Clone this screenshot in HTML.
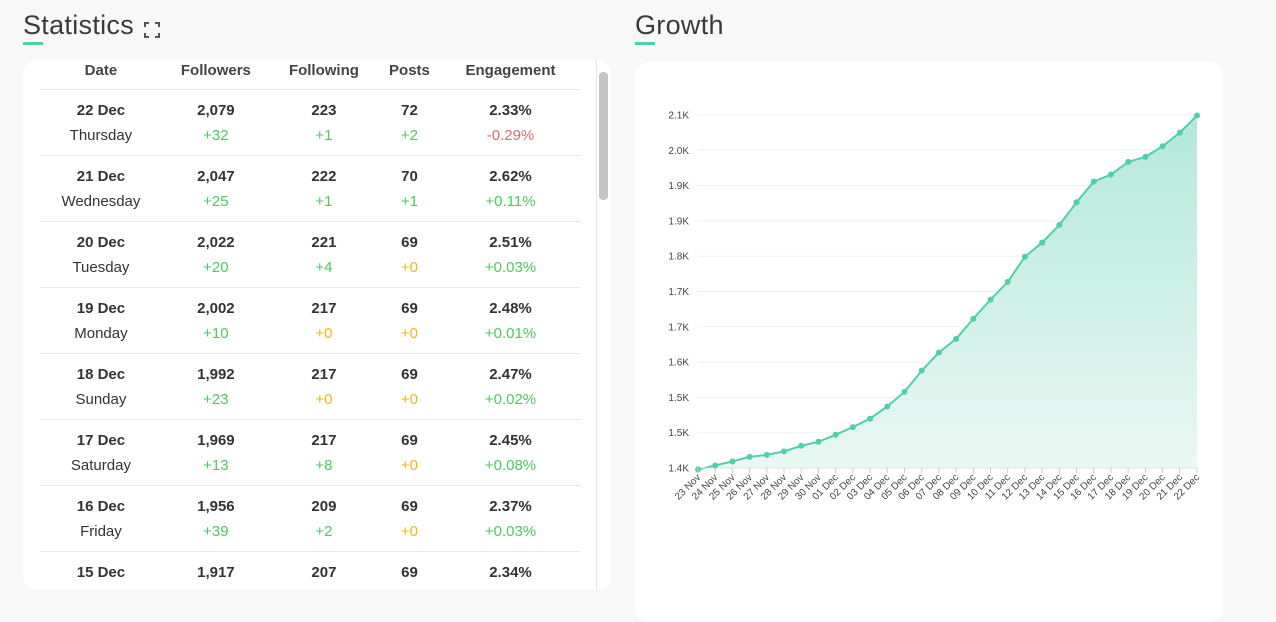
<!DOCTYPE html>
<html><head><meta charset="utf-8"><style>
body{margin:0;width:1276px;height:600px;background:#f8f8f8;font-family:"Liberation Sans",sans-serif;overflow:hidden;position:relative;color:#333}
.title{position:absolute;top:10px;font-size:27px;color:#3a3a3a;letter-spacing:0.3px}
.uline{position:absolute;top:42px;width:20px;height:3px;background:#4fcfae}
.card{position:absolute;background:#fff;border-radius:14px}
table{position:absolute;left:17px;top:0;width:540px;border-collapse:collapse;font-size:15px}
th{font-weight:bold;color:#444;height:27px;padding:2px 0 0 0;font-size:15px;line-height:18px;vertical-align:top}
td{text-align:center;padding:0;line-height:20px}
tr.r td{border-top:1px solid #e6e6e6}
.a{font-weight:bold;color:#333;padding-top:11px;height:20px}
.b{padding-top:5px;padding-bottom:9px;height:20px;vertical-align:top}
.g{color:#4cc95f}.rd{color:#e06a6a}.o{color:#efb811}.d{color:#333}
</style></head><body>
<div class="title" style="left:23px">Statistics</div>
<div class="uline" style="left:23px"></div>
<div style="position:absolute;left:144px;top:22px;width:14px;height:14px">
<svg width="16" height="16"><g stroke="#555" stroke-width="2" fill="none"><path d="M1 5V1H5M11 1H15V5M15 11V15H11M5 15H1V11"/></g></svg></div>
<div class="title" style="left:635px">Growth</div>
<div class="uline" style="left:635px"></div>

<div class="card" style="left:23px;top:60px;width:588px;height:530px;overflow:hidden">
<table>
<thead><tr><th>Date</th><th>Followers</th><th>Following</th><th>Posts</th><th>Engagement</th></tr></thead>
<tbody id="tb"></tbody></table>
<div style="position:absolute;left:573px;top:0;width:1px;height:530px;background:#e5e5e5"></div>
<div style="position:absolute;left:576px;top:12px;width:9px;height:128px;background:#c4c4c4;border-radius:4px"></div>
</div>

<div class="card" style="left:635px;top:62px;width:588px;height:560px">
<svg id="ch" width="588" height="540"></svg>
</div>

<script>
const rows=[
["22 Dec","Thursday","2,079","+32","g","223","+1","g","72","+2","g","2.33%","-0.29%","rd"],
["21 Dec","Wednesday","2,047","+25","g","222","+1","g","70","+1","g","2.62%","+0.11%","g"],
["20 Dec","Tuesday","2,022","+20","g","221","+4","g","69","+0","o","2.51%","+0.03%","g"],
["19 Dec","Monday","2,002","+10","g","217","+0","o","69","+0","o","2.48%","+0.01%","g"],
["18 Dec","Sunday","1,992","+23","g","217","+0","o","69","+0","o","2.47%","+0.02%","g"],
["17 Dec","Saturday","1,969","+13","g","217","+8","g","69","+0","o","2.45%","+0.08%","g"],
["16 Dec","Friday","1,956","+39","g","209","+2","g","69","+0","o","2.37%","+0.03%","g"],
["15 Dec","Thursday","1,917","+31","g","207","+0","o","69","+0","o","2.34%","+0.01%","g"]];
const tb=document.getElementById('tb');
rows.forEach(r=>{
 const t1=document.createElement('tr');t1.className='r';
 
 
 t1.innerHTML=`<td class="a">${r[0]}</td><td class="a">${r[2]}</td><td class="a">${r[5]}</td><td class="a">${r[8]}</td><td class="a">${r[11]}</td>`;
 const t2=document.createElement('tr');
 
 
 t2.innerHTML=`<td class="b d">${r[1]}</td><td class="b ${r[4]}">${r[3]}</td><td class="b ${r[7]}">${r[6]}</td><td class="b ${r[10]}">${r[9]}</td><td class="b ${r[13]}">${r[12]}</td>`;
 tb.appendChild(t1);tb.appendChild(t2);
});
</script>
<script>
const categories=["23 Nov","24 Nov","25 Nov","26 Nov","27 Nov","28 Nov","29 Nov","30 Nov","01 Dec","02 Dec","03 Dec","04 Dec","05 Dec","06 Dec","07 Dec","08 Dec","09 Dec","10 Dec","11 Dec","12 Dec","13 Dec","14 Dec","15 Dec","16 Dec","17 Dec","18 Dec","19 Dec","20 Dec","21 Dec","22 Dec"];
const followers=[1397,1405,1413,1422,1426,1433,1444,1452,1466,1481,1498,1522,1551,1593,1629,1656,1696,1734,1769,1819,1847,1882,1927,1968,1982,2007,2017,2038,2065,2099];
const yTickValues=[1400,1470,1540,1610,1680,1750,1820,1890,1960,2030,2100];
const yTickLabels=["1.4K","1.5K","1.5K","1.6K","1.7K","1.7K","1.8K","1.9K","1.9K","2.0K","2.1K"];
const NS="http://www.w3.org/2000/svg",svg=document.getElementById('ch');
const X0=63,X1=562,Y0=406,Y1=53,ymin=1400,ymax=2100;
const xs=i=>X0+(X1-X0)*i/(categories.length-1);
const ys=v=>Y0-(v-ymin)/(ymax-ymin)*(Y0-Y1);
function el(t,a){const e=document.createElementNS(NS,t);for(const k in a)e.setAttribute(k,a[k]);svg.appendChild(e);return e;}
const defs=el('defs',{});defs.innerHTML='<linearGradient id="gr" x1="0" y1="0" x2="0" y2="1"><stop offset="0" stop-color="#b3e8d8"/><stop offset="1" stop-color="#eaf8f4"/></linearGradient>';
yTickValues.forEach((v,i)=>{
 const g=el('line',{x1:X0,x2:X1,y1:ys(v),y2:ys(v),stroke:'#efefef','stroke-width':1});
 
 
 const t=el('text',{x:X0-9,y:ys(v)+3.5,'text-anchor':'end','font-size':10,fill:'#444'});t.textContent=yTickLabels[i];
 
 
});
let d='';followers.forEach((v,i)=>{d+=(i?'L':'M')+xs(i)+' '+ys(v);});
const area=el('path',{d:d+`L${X1} ${Y0}L${X0} ${Y0}Z`,fill:'url(#gr)'});


const ln=el('path',{d:d,fill:'none',stroke:'#4fcfae','stroke-width':2});


el('line',{x1:X0,x2:X1,y1:Y0,y2:Y0,stroke:'#e2e2e2'});
followers.forEach((v,i)=>{
 const c=el('circle',{cx:xs(i),cy:ys(v),r:3,fill:'#4fcfae'});
 
 
 el('line',{x1:xs(i),x2:xs(i),y1:Y0,y2:Y0+5,stroke:'#ccc'});
 const t=el('text',{x:xs(i)+3,y:Y0+10,'text-anchor':'end','font-size':10,fill:'#444',transform:`rotate(-45 ${xs(i)+3} ${Y0+10})`});
 t.textContent=categories[i];
 
 
});
</script>
</body></html>
